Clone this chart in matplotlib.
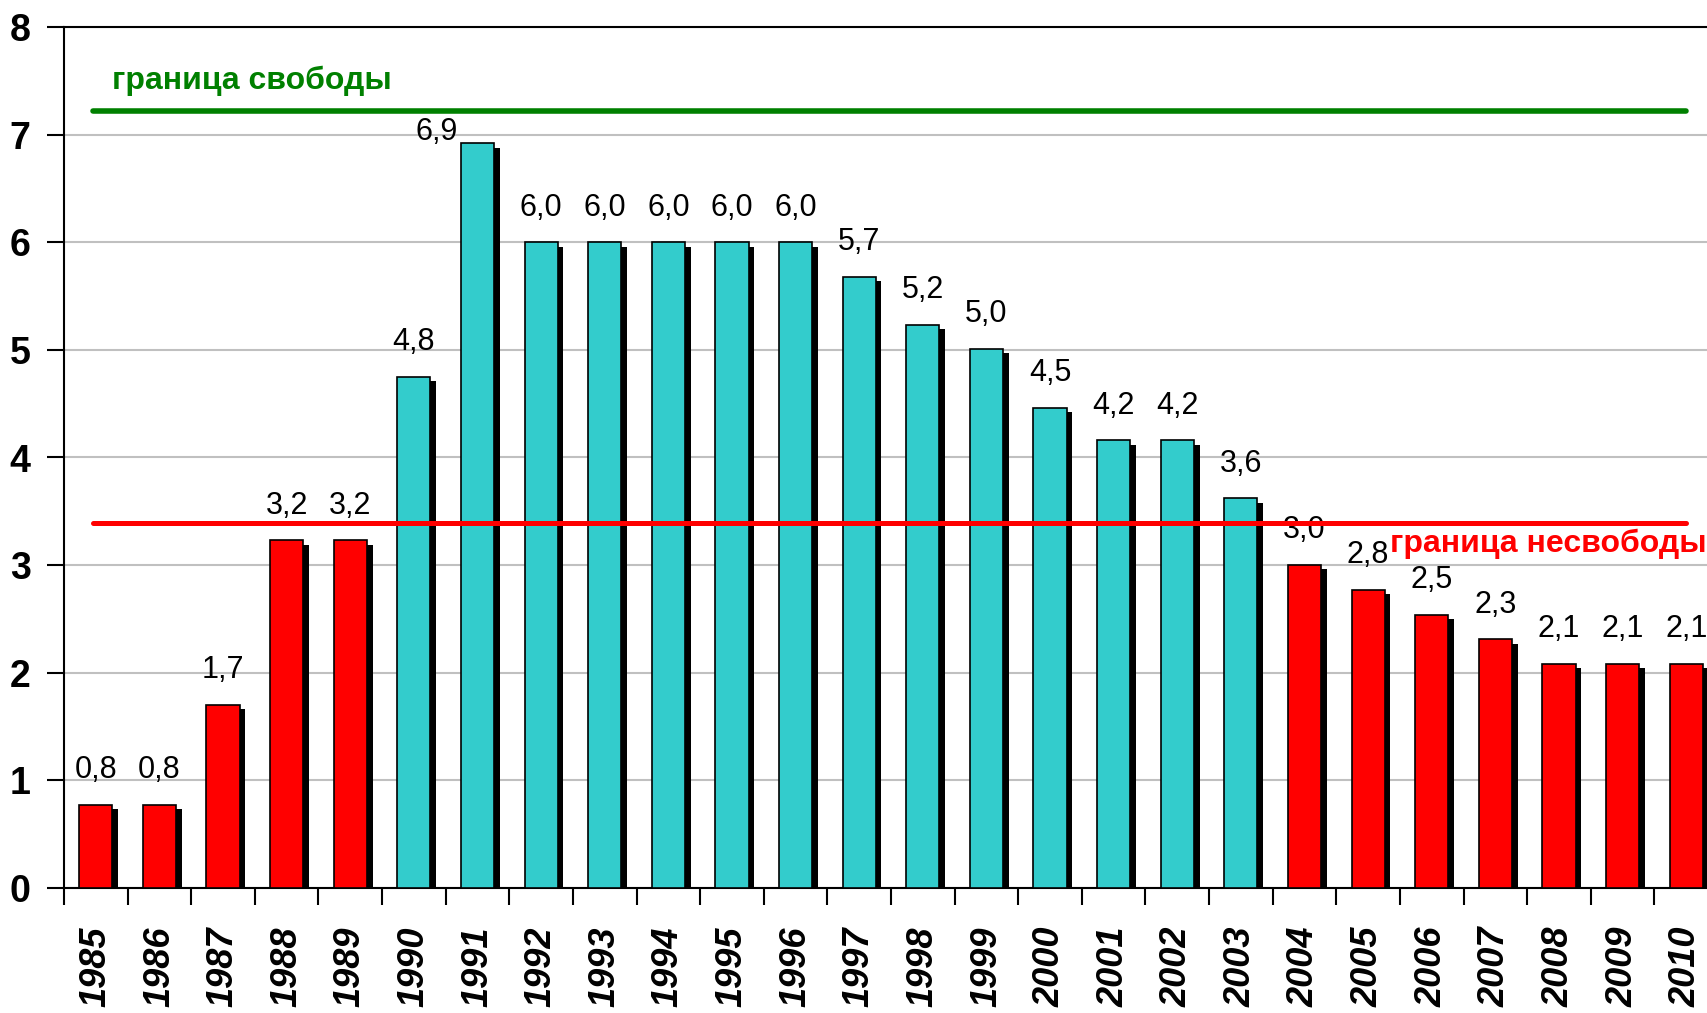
import numpy as np
import matplotlib
matplotlib.use("Agg")
from matplotlib import pyplot as plt

plt.rcParams['font.family'] = ['Liberation Sans', 'DejaVu Sans']

years = [str(y) for y in range(1985, 2011)]
values = [0.77, 0.77, 1.70, 3.23, 3.23, 4.75, 6.92, 6.0, 6.0, 6.0, 6.0, 6.0, 5.68,
          5.23, 5.01, 4.46, 4.16, 4.16, 3.62, 3.0, 2.77, 2.54, 2.31, 2.08, 2.08, 2.08]
labels = ['0,8', '0,8', '1,7', '3,2', '3,2', '4,8', '6,9', '6,0', '6,0', '6,0', '6,0', '6,0', '5,7',
          '5,2', '5,0', '4,5', '4,2', '4,2', '3,6', '3,0', '2,8', '2,5', '2,3', '2,1', '2,1', '2,1']
free_level = 7.22
unfree_level = 3.39

red = '#FF0000'
cyan = '#33CCCC'
colors = [cyan if v > unfree_level else red for v in values]

fig = plt.figure(figsize=(17.08, 10.13), dpi=100)
ax = fig.add_axes([64 / 1708, 125 / 1013, 1654 / 1708, 861 / 1013])

x = np.arange(len(years))
w = 0.52
# shadow behind bars
ax.bar(x + 0.09, np.array(values) - 0.04, width=w, color='black', zorder=2)
ax.bar(x, values, width=w, color=colors, edgecolor='black', linewidth=1.2, zorder=3)

for i, (v, lab) in enumerate(zip(values, labels)):
    if i == 6:
        # 1991 label sits left of the bar (under the green line)
        ax.annotate(lab, (i - w / 2, v), xytext=(-2, 8), textcoords='offset points',
                    ha='right', va='center', fontsize=22)
    else:
        ax.annotate(lab, (i, v), xytext=(0, 25), textcoords='offset points',
                    ha='center', va='center', fontsize=22)

ax.plot([-0.04, 25.0], [free_level, free_level], color='#008000', lw=4,
        solid_capstyle='round', zorder=4)
ax.plot([-0.04, 25.0], [unfree_level, unfree_level], color=red, lw=3.6,
        solid_capstyle='round', zorder=4)
ax.text(0.26, 7.5, 'граница свободы', color='#008000', fontsize=23, fontweight='bold',
        ha='left', va='center')
ax.text(20.35, 3.2, 'граница несвободы', color=red, fontsize=23, fontweight='bold',
        ha='left', va='center', zorder=5)

ax.set_xlim(-0.5, 25.5)
ax.set_ylim(0, 8)
ax.set_yticks(range(0, 9))
ax.yaxis.grid(True, color='#C0C0C0', lw=1.5, zorder=0)
ax.set_axisbelow(True)

ax.set_xticks(x)
ax.set_xticklabels(years, rotation=90, fontsize=26, fontweight='bold', fontstyle='italic')
ax.set_xticks(np.arange(-0.5, 26, 1), minor=True)
ax.tick_params(axis='x', which='major', length=0, pad=28)
ax.tick_params(axis='x', which='minor', length=12, width=1.5, direction='out')
ax.tick_params(axis='y', length=12, width=1.5, direction='out', labelsize=27, pad=12)
for t in ax.get_yticklabels():
    t.set_fontweight('bold')

for s in ['left', 'top', 'bottom']:
    ax.spines[s].set_linewidth(1.5)
ax.spines['right'].set_visible(False)

fig.savefig('out.png', dpi=100)
